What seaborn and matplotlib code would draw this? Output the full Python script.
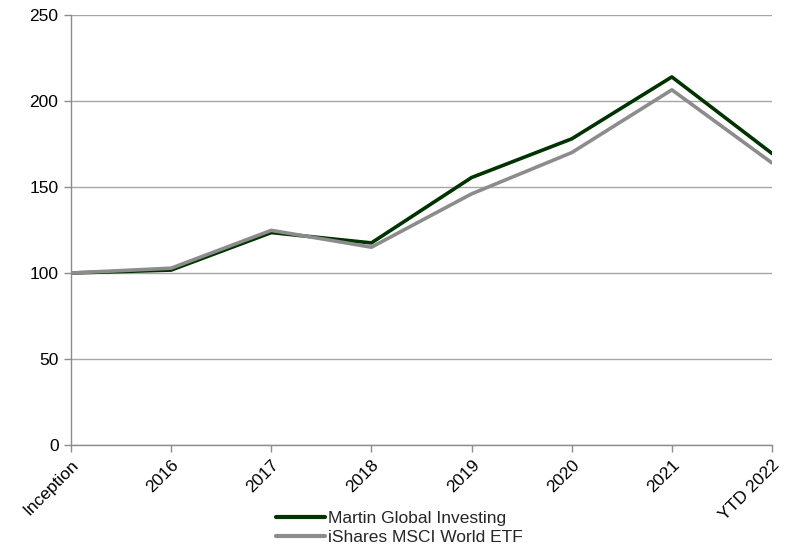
import numpy as np
import pandas as pd
import matplotlib
matplotlib.use("Agg")
import matplotlib.pyplot as plt
import seaborn as sns

# data
periods = ["Inception", "2016", "2017", "2018", "2019", "2020", "2021", "YTD 2022"]
martin = [100, 101.7, 123.5, 117.5, 155.5, 178, 214, 169.5]
ishares = [100, 102.8, 124.8, 115, 146, 170, 206.5, 164]
series_names = ["Martin Global Investing", "iShares MSCI World ETF"]

df = pd.DataFrame({
    "period": periods * 2,
    "value": martin + ishares,
    "series": [series_names[0]] * len(periods) + [series_names[1]] * len(periods),
})

sns.set_style("white")
plt.rcParams["font.family"] = ["Liberation Sans", "DejaVu Sans"]

fig = plt.figure(figsize=(7.86, 5.49), dpi=100)
ax = fig.add_axes([71 / 786, 1 - 445 / 549, (772 - 71) / 786, (445 - 15) / 549])

sns.lineplot(data=df, x="period", y="value", hue="series", sort=False,
             palette=["#003300", "#8c8c8c"], linewidth=2.6, ax=ax, legend=False)

ax.set_xlim(0, len(periods) - 1)
ax.set_ylim(0, 250)
ax.set_yticks([0, 50, 100, 150, 200, 250])
ax.yaxis.grid(True, color="#a6a6a6", linewidth=1)
ax.set_axisbelow(True)
ax.set_xlabel("")
ax.set_ylabel("")

for s in ["top", "right"]:
    ax.spines[s].set_visible(False)
for s in ["left", "bottom"]:
    ax.spines[s].set_color("#8c8c8c")
    ax.spines[s].set_linewidth(1)

ax.tick_params(axis="both", which="major", direction="out", length=5, width=1,
               bottom=True, left=True, color="#8c8c8c", labelsize=12.5,
               labelcolor="black", pad=4)
ax.set_xticks(range(len(periods)))
ax.set_xticklabels(periods, rotation=45, ha="right", va="top", rotation_mode="anchor")

handles = [plt.Line2D([], [], color="#003300", linewidth=3),
           plt.Line2D([], [], color="#8c8c8c", linewidth=3)]
fig.legend(handles, series_names, loc="center", bbox_to_anchor=(0.508, 1 - 528 / 549),
           ncol=1, frameon=False, fontsize=12.5, handlelength=2.8,
           handletextpad=0.15, labelspacing=0.2, borderpad=0)

fig.savefig("out.png", dpi=100)
